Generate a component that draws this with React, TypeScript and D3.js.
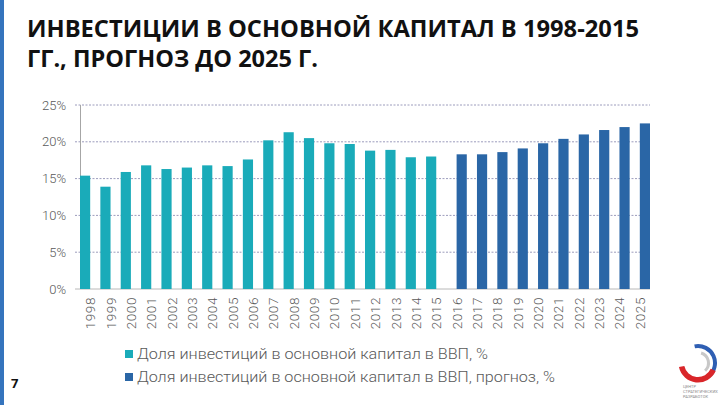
import React from "react";
import * as d3 from "d3";

const years = [
  "1998","1999","2000","2001","2002","2003","2004","2005","2006","2007",
  "2008","2009","2010","2011","2012","2013","2014","2015",
  "2016","2017","2018","2019","2020","2021","2022","2023","2024","2025",
];
const histYears = years.slice(0, 18);
const histValues = [15.4, 13.9, 15.9, 16.8, 16.3, 16.5, 16.8, 16.7, 17.6, 20.2, 21.3, 20.5, 19.8, 19.7, 18.8, 18.9, 17.9, 18.0];
const forecastYears = years.slice(18);
const forecastValues = [18.3, 18.3, 18.6, 19.1, 19.8, 20.4, 21.0, 21.6, 22.0, 22.5];
const yTicks = [0, 5, 10, 15, 20, 25];
const seriesNames = [
  "Доля инвестиций в основной капитал в ВВП, %",
  "Доля инвестиций в основной капитал в ВВП, прогноз, %",
];
const titleLines = [
  "ИНВЕСТИЦИИ В ОСНОВНОЙ КАПИТАЛ В 1998-2015",
  "ГГ., ПРОГНОЗ ДО 2025 Г.",
];

const TEAL = "#1aabb9";
const BLUE = "#2a66a6";
const GRAY = "#595959";

export default function App() {
  const x = d3.scaleBand<string>().domain(years).range([80, 650]).padding(0);
  const sub = d3.scaleBand<string>().domain(["hist", "fc"]).range([0, x.bandwidth()]).padding(0);
  const y = d3.scaleLinear().domain([0, 25]).range([289, 105]);

  const logoArc = d3.arc();

  return (
    <svg
      width={720}
      height={405}
      style={{ position: "absolute", left: 0, top: 0, display: "block", background: "#fff" }}
      fontFamily="Roboto, 'Open Sans', sans-serif"
    >
      {/* left strip */}
      <rect x={0} y={0} width={4} height={405} fill="#3574bd" />

      {/* title */}
      {titleLines.map((t, i) => (
        <text
          key={i}
          x={27}
          y={37 + i * 30}
          fontFamily="'Open Sans', sans-serif"
          fontWeight={700}
          fontSize={23.5}
          fill="#111"
          textLength={i === 0 ? 612 : 291}
          lengthAdjust="spacingAndGlyphs"
        >
          {t}
        </text>
      ))}

      {/* gridlines */}
      {yTicks.map((t) => (
        <g key={t}>
          <line
            x1={75}
            x2={650}
            y1={y(t)}
            y2={y(t)}
            stroke={t === 0 ? "#b8b8b8" : "#9c9cbc"}
            strokeWidth={1}
            strokeDasharray={t === 0 ? undefined : "2,1.5"}
          />
          <text
            x={66}
            y={y(t)}
            dy="0.35em"
            textAnchor="end"
            fontSize={13}
            fontWeight={300}
            fill={GRAY}
          >
            {t}%
          </text>
        </g>
      ))}
      {/* y axis line */}
      <line x1={80.5} x2={80.5} y1={y(25)} y2={y(0)} stroke="#a6a6a6" strokeWidth={1} />

      {/* bars */}
      {histYears.map((yr, i) => (
        <rect
          key={"h" + yr}
          x={(x(yr) as number) + (sub("hist") as number)}
          y={y(histValues[i])}
          width={sub.bandwidth()}
          height={y(0) - y(histValues[i])}
          fill={TEAL}
        />
      ))}
      {forecastYears.map((yr, i) => (
        <rect
          key={"f" + yr}
          x={(x(yr) as number) + (sub("fc") as number)}
          y={y(forecastValues[i])}
          width={sub.bandwidth()}
          height={y(0) - y(forecastValues[i])}
          fill={BLUE}
        />
      ))}

      {/* x labels */}
      {years.map((yr) => {
        const cx = (x(yr) as number) + x.bandwidth() / 2;
        return (
          <text
            key={"l" + yr}
            transform={`translate(${cx + 5},297) rotate(-90)`}
            textAnchor="end"
            fontSize={13.5}
            fontWeight={300}
            fill={GRAY}
            letterSpacing={0.6}
          >
            {yr}
          </text>
        );
      })}

      {/* legend */}
      {seriesNames.map((n, i) => (
        <g key={n}>
          <rect x={125} y={350 + i * 23} width={8} height={8} fill={i === 0 ? TEAL : BLUE} />
          <text
            x={137}
            y={359 + i * 23}
            fontSize={14.5}
            fontWeight={300}
            fill={GRAY}
            textLength={i === 0 ? 351 : 418}
            lengthAdjust="spacingAndGlyphs"
          >
            {n}
          </text>
        </g>
      ))}

      {/* page number */}
      <text x={11} y={388} fontFamily="'Open Sans', sans-serif" fontWeight={700} fontSize={13} fill="#111">
        7
      </text>

      {/* logo */}
      <g transform="translate(698,363)">
        <path
          d={logoArc({ innerRadius: 15, outerRadius: 19, startAngle: -0.2, endAngle: 2.5 }) || ""}
          fill="#2f5fb3"
        />
        <path
          d={logoArc({ innerRadius: 9, outerRadius: 12, startAngle: 0.3, endAngle: 2.4 }) || ""}
          fill="#c8c8c8"
        />
        <path
          d={logoArc({ innerRadius: 14, outerRadius: 19.5, startAngle: 2.0, endAngle: 4.5 }) || ""}
          fill="#d9262a"
        />
        <text x={-15} y={25} fontSize={4} fill="#888">ЦЕНТР</text>
        <text x={-15} y={30} fontSize={4} fill="#888">СТРАТЕГИЧЕСКИХ</text>
        <text x={-15} y={35} fontSize={4} fill="#888">РАЗРАБОТОК</text>
      </g>
    </svg>
  );
}
